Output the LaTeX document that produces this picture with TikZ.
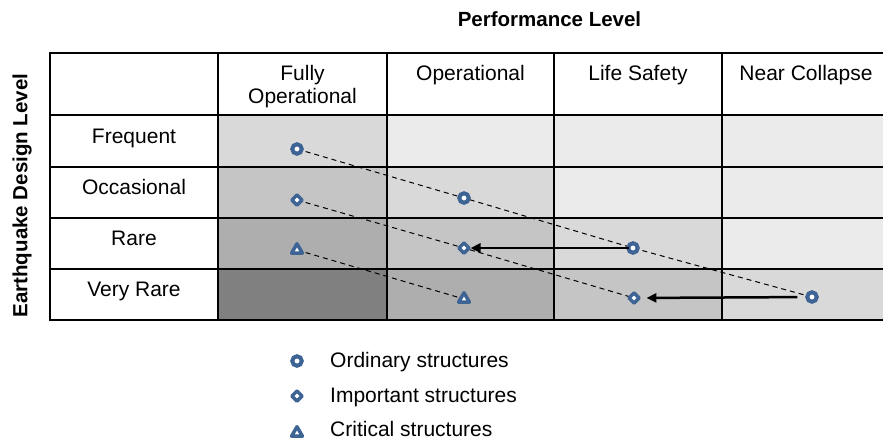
\documentclass[tikz,border=0pt]{standalone}
\usepackage{fontspec}
\setmainfont{Liberation Sans}
\usetikzlibrary{shapes.geometric,arrows.meta}
\pgfdeclarelayer{back}
\pgfdeclarelayer{mid}
\pgfsetlayers{back,mid,main}
\definecolor{mk}{RGB}{62,99,149}
\definecolor{lvA}{HTML}{EBEBEB}
\definecolor{lvB}{HTML}{D9D9D9}
\definecolor{lvC}{HTML}{C4C5C4}
\definecolor{lvD}{HTML}{AEAEAE}
\definecolor{lvE}{HTML}{808080}
\begin{document}
\begin{tikzpicture}[x=1pt,y=-1pt,
  txt/.style={font=\fontsize{21}{23}\selectfont, inner sep=0pt, anchor=base, align=center},
  btxt/.style={font=\fontsize{20.5}{24}\selectfont\bfseries, inner sep=0pt, anchor=base},
  tableline/.style={line width=2.5pt, line cap=rect},
  ring/.style={circle, draw=mk, fill=white, line width=4pt, minimum size=9.5pt, inner sep=0pt},
  dmd/.style={diamond, draw=mk, fill=white, line width=3.5pt, minimum size=11.5pt, inner sep=0pt, line join=round},
  tri/.style={regular polygon, regular polygon sides=3, draw=mk, fill=white, line width=3.5pt, minimum size=12.5pt, inner sep=0pt, line join=round},
  trend/.style={dash pattern=on 5pt off 4pt, line width=1pt},
  movearrow/.style={line width=2.5pt, -{Triangle[length=10pt,width=9pt]}}
]
\useasboundingbox (0,0) rectangle (883,440);

% cell fills
\begin{pgfonlayer}{back}
\fill[white] (0,0) rectangle (883,440);
\foreach \r/\ya/\yb in {1/115/167, 2/167/218, 3/218/269, 4/269/320}{
  \foreach \c/\xa/\xb in {1/218/387, 2/387/554, 3/554/722, 4/722/883}{
    \pgfmathtruncatemacro{\lv}{\r-\c+1}
    \ifcase\lv \def\cc{lvA}\or \def\cc{lvB}\or \def\cc{lvC}\or \def\cc{lvD}\or \def\cc{lvE}\else \def\cc{lvA}\fi
    \fill[\cc] (\xa,\ya) rectangle (\xb,\yb);
  }
}
\end{pgfonlayer}

% table lines
\begin{pgfonlayer}{mid}
\foreach \yy in {53,115,167,218,269,320}{
  \draw[tableline] (50,\yy) -- (883,\yy);
}
\foreach \xx in {50,218,387,554,722}{
  \draw[tableline] (\xx,53) -- (\xx,320);
}
\end{pgfonlayer}

% titles
\node[btxt] (title) at (549.5,26.7) {Performance Level};
\node[btxt, rotate=90] (ylab) at (27.3,195.5) {Earthquake Design Level};

% column headers
\node[txt] (h1) at (302.5,103) {Fully\\Operational};
\node[txt] (h2) at (470.5,80) {Operational};
\node[txt] (h3) at (638,80) {Life Safety};
\node[txt] (h4) at (806,80) {Near Collapse};

% row labels
\node[txt] (r1) at (134,143) {Frequent};
\node[txt] (r2) at (134,194) {Occasional};
\node[txt] (r3) at (134,245) {Rare};
\node[txt] (r4) at (134,296) {Very Rare};

% markers
\node[ring] (o1) at (297,149) {};
\node[ring] (o2) at (464,198) {};
\node[ring] (o3) at (633,248) {};
\node[ring] (o4) at (812,297) {};
\node[dmd] (d1) at (297,200) {};
\node[dmd] (d2) at (464,248) {};
\node[dmd] (d3) at (634,298) {};
\node[tri] (t1) at (297,250) {};
\node[tri] (t2) at (464,299) {};

% dashed trends
\begin{pgfonlayer}{mid}
\draw[trend] (o1.center) -- (o2.center) -- (o3.center) -- (o4.center);
\draw[trend] (d1.center) -- (d2.center) -- (d3.center);
\draw[trend] (t1.center) -- (t2.center);
\end{pgfonlayer}

% arrows
\draw[movearrow, shorten <=-3pt, shorten >=-1pt] (o3) -- (d2);
\draw[movearrow, shorten <=8pt, shorten >=5pt] (o4) -- (d3);

% legend
\node[ring] (lo) at (297,361) {};
\node[dmd] (ld) at (297,396) {};
\node[tri] (lt) at (297,433) {};
\node[txt, anchor=base west] (lot) at (330,367) {Ordinary structures};
\node[txt, anchor=base west] (ldt) at (330,402) {Important structures};
\node[txt, anchor=base west] (ltt) at (330,436.5) {Critical structures};
\end{tikzpicture}
\end{document}
